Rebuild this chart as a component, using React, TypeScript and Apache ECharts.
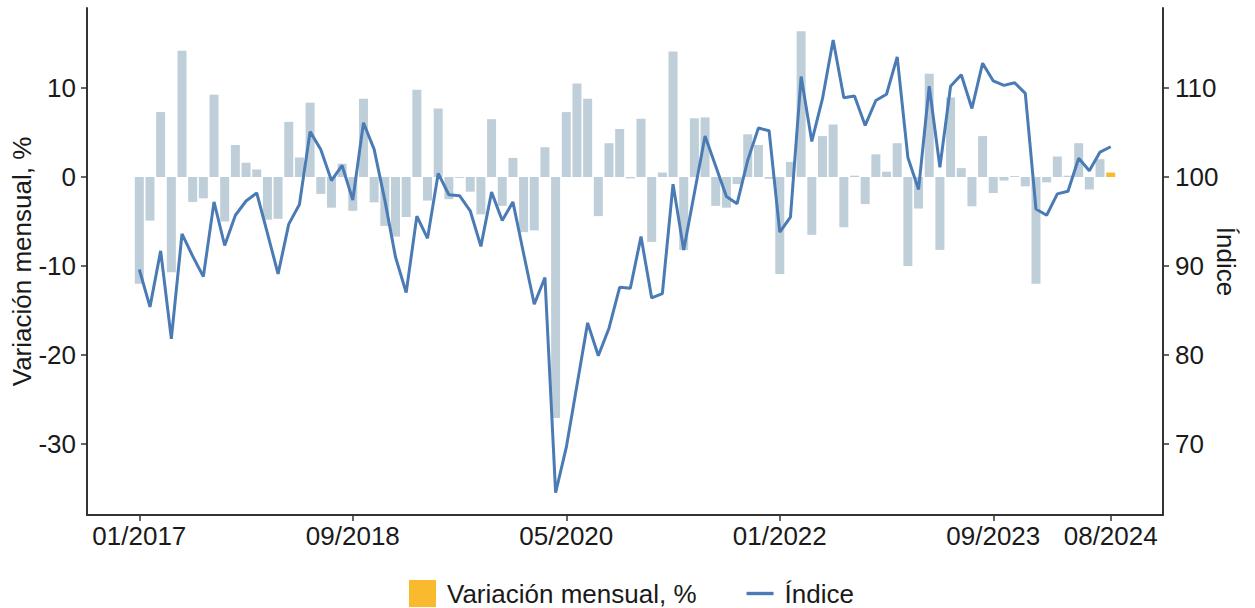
import React, { useEffect, useRef } from "react";
import * as echarts from "echarts";

// Month labels 01/2017 .. 08/2024
const months: string[] = [];
for (let y = 2017; y <= 2024; y++) {
  for (let m = 1; m <= 12; m++) {
    if (y === 2024 && m > 8) break;
    months.push(String(m).padStart(2, "0") + "/" + y);
  }
}

// Monthly variation, %
const variation: number[] = [
  -12.0, -4.9, 7.3, -10.7, 14.2, -2.8, -2.4, 9.25, -5.0, 3.6, 1.6, 0.85,
  -4.8, -4.7, 6.2, 2.2, 8.35, -1.9, -3.45, 1.5, -3.8, 8.8, -2.85, -5.5,
  -6.7, -4.5, 9.8, -2.65, 7.7, -2.5, -0.1, -1.65, -4.2, 6.5, -3.25, 2.15,
  -6.2, -6.0, 3.35, -27.1, 7.3, 10.5, 8.8, -4.4, 3.8, 5.4, -0.15, 6.55,
  -7.3, 0.5, 14.1, -8.2, 6.6, 6.7, -3.25, -3.45, -0.8, 4.8, 3.6, -0.2,
  -10.9, 1.7, 16.4, -6.5, 4.6, 5.9, -5.65, 0.15, -3.05, 2.55, 0.6, 3.8,
  -10.0, -3.55, 11.6, -8.2, 8.95, 1.0, -3.3, 4.6, -1.8, -0.4, 0.1, -1.05,
  -12.0, -0.6, 2.3, 0.15, 3.8, -1.4, 2.0, 0.5,
];

// Index
const indexValues: number[] = [
  89.6, 85.4, 91.7, 81.8, 93.6, 91.1, 88.8, 97.2, 92.3, 95.7, 97.3, 98.2,
  93.7, 89.1, 94.7, 96.9, 105.1, 103.1, 99.6, 101.3, 97.4, 106.1, 103.1, 97.4,
  91.0, 87.0, 95.6, 93.1, 100.4, 98.0, 97.9, 96.2, 92.2, 98.3, 95.1, 97.2,
  91.4, 85.7, 88.7, 64.5, 69.6, 76.6, 83.6, 79.9, 83.0, 87.6, 87.5, 93.3,
  86.4, 86.9, 99.2, 91.8, 98.2, 104.6, 101.2, 97.8, 97.0, 101.9, 105.5, 105.2,
  93.8, 95.5, 111.3, 104.0, 108.8, 115.4, 108.9, 109.1, 105.8, 108.6, 109.3, 113.5,
  102.2, 98.6, 110.2, 101.1, 110.2, 111.5, 107.7, 112.8, 110.8, 110.3, 110.6, 109.4,
  96.4, 95.7, 98.1, 98.4, 102.1, 100.7, 102.8, 103.4,
];

const xTickIdx: number[] = [0, 20, 40, 60, 80, 91];
const leftTicks: number[] = [-30, -20, -10, 0, 10];
const rightTicks: number[] = [70, 80, 90, 100, 110];

const FONT = "'Liberation Sans', Arial, sans-serif";
const FS = 26;
const TEXT = "#1a1a1a";
const AXIS = "#333333";
const BAR = "#bfcfd9";
const HIGHLIGHT = "#f9bb2d";
const LINE = "#4a7bb5";

export default function App() {
  const ref = useRef<HTMLDivElement>(null);

  useEffect(() => {
    if (!ref.current) return;
    const chart = echarts.init(ref.current, undefined, { renderer: "svg" });
    const last = variation.length - 1;
    const labelStyle = { fontFamily: FONT, fontSize: FS, color: TEXT };
    const option: any = {
      animation: false,
      grid: {
        left: 87,
        right: 92,
        top: 8,
        bottom: 93,
        containLabel: false,
        outerBoundsMode: "none",
      },
      legend: {
        top: 575,
        left: 404,
        itemWidth: 27,
        itemHeight: 27,
        itemGap: 50,
        symbolKeepAspect: true,
        textStyle: { fontFamily: FONT, fontSize: FS, color: TEXT, padding: [0, 0, 0, 6] },
        data: [
          { name: "Variación mensual, %", icon: "rect" },
          { name: "Índice", icon: "path://M0 0H24V3H0Z" },
        ],
      },
      xAxis: {
        type: "value",
        min: -4.9,
        max: 95.9,
        axisLine: { show: true, onZero: false, lineStyle: { color: AXIS, width: 2 } },
        axisTick: {
          show: true,
          customValues: xTickIdx,
          length: 6,
          lineStyle: { color: AXIS, width: 1.5 },
        },
        axisLabel: {
          ...labelStyle,
          customValues: xTickIdx,
          margin: 8,
          formatter: (v: number) => months[Math.round(v)] ?? "",
        },
        splitLine: { show: false },
      },
      yAxis: [
        {
          type: "value",
          position: "left",
          min: -38,
          max: 19,
          name: "Variación mensual, %",
          nameLocation: "middle",
          nameGap: 52,
          nameMoveOverlap: false,
          nameTextStyle: { fontFamily: FONT, fontSize: FS, color: TEXT },
          axisLine: { show: true, onZero: false, lineStyle: { color: AXIS, width: 2 } },
          axisTick: {
            show: true,
            customValues: leftTicks,
            length: 6,
            lineStyle: { color: AXIS, width: 1.5 },
          },
          axisLabel: { ...labelStyle, customValues: leftTicks, margin: 11 },
          splitLine: { show: false },
        },
        {
          type: "value",
          position: "right",
          min: 62,
          max: 119,
          name: "Índice",
          nameLocation: "middle",
          nameRotate: -90,
          nameGap: 50,
          nameMoveOverlap: false,
          nameTextStyle: { fontFamily: FONT, fontSize: FS, color: TEXT },
          axisLine: { show: true, onZero: false, lineStyle: { color: AXIS, width: 2 } },
          axisTick: {
            show: true,
            customValues: rightTicks,
            length: 6,
            lineStyle: { color: AXIS, width: 1.5 },
          },
          axisLabel: { ...labelStyle, customValues: rightTicks, margin: 12 },
          splitLine: { show: false },
        },
      ],
      series: [
        {
          type: "bar",
          name: "Variación mensual, %",
          yAxisIndex: 0,
          barWidth: 9,
          itemStyle: { color: HIGHLIGHT },
          data: variation.map((v, i) =>
            i === last
              ? { value: [i, v] }
              : { value: [i, v], itemStyle: { color: BAR } }
          ),
        },
        {
          type: "line",
          name: "Índice",
          yAxisIndex: 1,
          symbol: "none",
          showSymbol: false,
          lineStyle: { color: LINE, width: 3 },
          itemStyle: { color: LINE },
          data: indexValues.map((v, i) => [i, v]),
        },
      ],
    };
    chart.setOption(option);
    return () => chart.dispose();
  }, []);

  return (
    <div
      ref={ref}
      style={{ position: "fixed", left: 0, top: 0, width: 1255, height: 608, background: "#fff" }}
    />
  );
}
